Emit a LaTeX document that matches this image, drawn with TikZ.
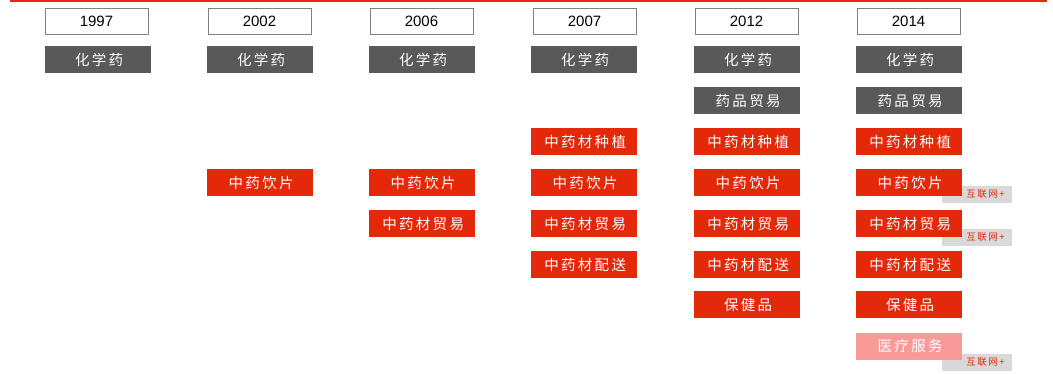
\documentclass[tikz,border=0pt]{standalone}
\usepackage{fontspec}
\setmainfont{Liberation Sans}
\newfontfamily\cjk[LetterSpace=16]{Noto Sans CJK SC}
\definecolor{myred}{RGB}{228,40,10}
\definecolor{mygray}{RGB}{89,89,89}
\definecolor{mypink}{RGB}{248,154,152}
\definecolor{taggray}{RGB}{217,217,217}
\definecolor{framegray}{RGB}{128,128,128}
\begin{document}
\begin{tikzpicture}[x=1pt,y=-1pt,
  yearbox/.style={draw=framegray,line width=0.8pt,fill=white,minimum width=103pt,minimum height=26pt,inner sep=0pt,font=\fontsize{15}{15}\selectfont},
  item/.style={minimum width=106pt,minimum height=27pt,inner sep=0pt,text=white,font=\cjk\fontsize{14.5}{15}\selectfont,execute at begin node={\hspace*{2.3pt}}},
  chem/.style={item,fill=mygray},
  redbox/.style={item,fill=myred},
  pinkbox/.style={item,fill=mypink},
  tag/.style={fill=taggray,minimum width=70pt,minimum height=17pt,inner sep=0pt,text=myred,font=\cjk\fontsize{9.5}{10}\selectfont,execute at begin node={\hspace*{17pt}}}]
\useasboundingbox (0,0) rectangle (1053,374);
\coordinate (la) at (10,1.5);
\coordinate (lb) at (1047,1.5);
\draw[myred,line width=2pt] (la) -- (lb);
% tags (behind the boxes)
\node[tag] (t1) at (977,194.5) {互联网+};
\node[tag] (t2) at (977,237.5) {互联网+};
\node[tag] (t3) at (977,362.5) {互联网+};
% years
\node[yearbox] (y1) at (96.5,21) {1997};
\node[yearbox] (y2) at (259.5,21) {2002};
\node[yearbox] (y3) at (421.5,21) {2006};
\node[yearbox] (y4) at (584.5,21) {2007};
\node[yearbox] (y5) at (746.5,21) {2012};
\node[yearbox] (y6) at (908.5,21) {2014};
% column 1997
\node[chem] (a1) at (98,60) {化学药};
% 2002
\node[chem] (b1) at (260,60) {化学药};
\node[redbox] (b2) at (260,183) {中药饮片};
% 2006
\node[chem] (c1) at (422,60) {化学药};
\node[redbox] (c2) at (422,183) {中药饮片};
\node[redbox] (c3) at (422,224) {中药材贸易};
% 2007
\node[chem] (d1) at (584,60) {化学药};
\node[redbox] (d2) at (584,142) {中药材种植};
\node[redbox] (d3) at (584,183) {中药饮片};
\node[redbox] (d4) at (584,224) {中药材贸易};
\node[redbox] (d5) at (584,265) {中药材配送};
% 2012
\node[chem] (e1) at (747,60) {化学药};
\node[chem] (e2) at (747,101) {药品贸易};
\node[redbox] (e3) at (747,142) {中药材种植};
\node[redbox] (e4) at (747,183) {中药饮片};
\node[redbox] (e5) at (747,224) {中药材贸易};
\node[redbox] (e6) at (747,265) {中药材配送};
\node[redbox] (e7) at (747,305) {保健品};
% 2014
\node[chem] (f1) at (909,60) {化学药};
\node[chem] (f2) at (909,101) {药品贸易};
\node[redbox] (f3) at (909,142) {中药材种植};
\node[redbox] (f4) at (909,183) {中药饮片};
\node[redbox] (f5) at (909,224) {中药材贸易};
\node[redbox] (f6) at (909,265) {中药材配送};
\node[redbox] (f7) at (909,305) {保健品};
\node[pinkbox] (f8) at (909,346) {医疗服务};
\end{tikzpicture}
\end{document}
